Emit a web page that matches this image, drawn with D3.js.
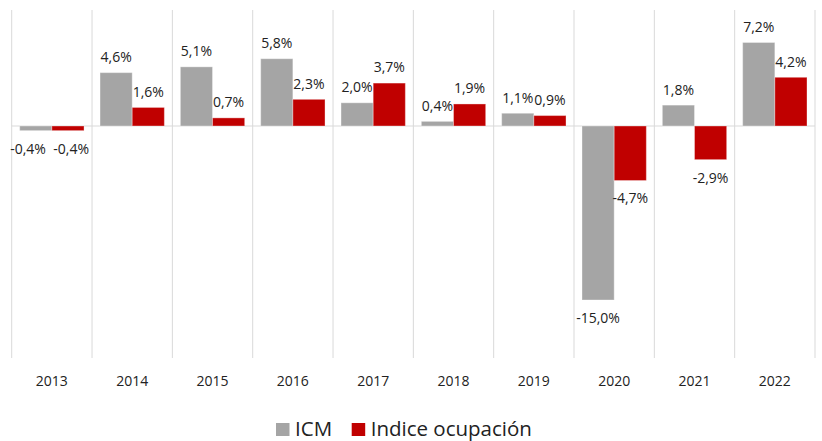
<!DOCTYPE html>
<html>
<head>
<meta charset="utf-8">
<script src="https://cdn.jsdelivr.net/npm/d3@7"></script>
<style>
  body { margin: 0; background: #fff; }
  svg { display: block; font-family: "Open Sans", sans-serif; }
</style>
</head>
<body>
<div id="chart"></div>
<script>
const years = ["2013", "2014", "2015", "2016", "2017", "2018", "2019", "2020", "2021", "2022"];
const icm = [-0.4, 4.6, 5.1, 5.8, 2.0, 0.4, 1.1, -15.0, 1.8, 7.2];
const ocupacion = [-0.4, 1.6, 0.7, 2.3, 3.7, 1.9, 0.9, -4.7, -2.9, 4.2];
const seriesNames = ["ICM", "Indice ocupación"];
const colors = ["#a5a5a5", "#c00000"];

const width = 822, height = 441;

const svg = d3.select("#chart").append("svg")
    .attr("width", width)
    .attr("height", height);

const x = d3.scaleBand()
    .domain(years)
    .range([11.7, 815])
    .padding(0);

const x1 = d3.scaleBand()
    .domain(seriesNames)
    .range([8, x.bandwidth() - 8]);

const y = d3.scaleLinear()
    .domain([-20, 10])
    .range([358, 10]);

// vertical separators between categories
const edges = years.map(d => x(d)).concat([x.range()[1]]);
svg.append("g")
    .selectAll("line")
    .data(edges)
    .join("line")
    .attr("x1", d => d).attr("x2", d => d)
    .attr("y1", y.range()[1]).attr("y2", y.range()[0])
    .attr("stroke", "#d9d9d9")
    .attr("stroke-width", 1);

// zero line
svg.append("line")
    .attr("x1", x.range()[0]).attr("x2", x.range()[1])
    .attr("y1", y(0)).attr("y2", y(0))
    .attr("stroke", "#d9d9d9")
    .attr("stroke-width", 1);

const rows = years.map((yr, i) => ({
    year: yr,
    values: [icm[i], ocupacion[i]]
}));

const groups = svg.append("g")
    .selectAll("g")
    .data(rows)
    .join("g")
    .attr("transform", d => `translate(${x(d.year)},0)`);

const cells = groups.selectAll("g")
    .data(d => d.values.map((v, k) => ({ name: seriesNames[k], value: v, k })))
    .join("g");

cells.append("rect")
    .attr("x", d => x1(d.name))
    .attr("y", d => y(Math.max(0, d.value)))
    .attr("width", x1.bandwidth())
    .attr("height", d => Math.abs(y(d.value) - y(0)))
    .attr("fill", d => colors[d.k])
    .attr("stroke", "#fff")
    .attr("stroke-opacity", 0.35)
    .attr("stroke-width", 1);

const fmt = v => v.toFixed(1).replace(".", ",") + "%";

cells.append("text")
    .attr("class", "val")
    .attr("x", d => x1(d.name) + x1.bandwidth() / 2)
    .attr("y", d => d.value >= 0 ? y(d.value) - 15.5 : y(d.value) + 18)
    .attr("dy", "0.35em")
    .attr("text-anchor", "middle")
    .attr("font-size", 14)
    .attr("fill", "#222")
    .text(d => fmt(d.value));

// if the two labels of a year collide, push them apart
groups.each(function () {
    const labels = d3.select(this).selectAll("text.val").nodes();
    const a = labels[0].getBBox(), b = labels[1].getBBox();
    const overlap = a.x + a.width > b.x && Math.abs(a.y - b.y) < a.height;
    if (!overlap) return;
    d3.select(labels[0])
        .attr("text-anchor", "end")
        .attr("x", x1(seriesNames[0]) + x1.bandwidth() - 6);
    d3.select(labels[1])
        .attr("text-anchor", "start")
        .attr("x", x1(seriesNames[1]) + 1.5);
});

// category labels
svg.append("g")
    .selectAll("text")
    .data(years)
    .join("text")
    .attr("x", d => x(d) + x.bandwidth() / 2)
    .attr("y", 381)
    .attr("dy", "0.35em")
    .attr("text-anchor", "middle")
    .attr("font-size", 14)
    .attr("fill", "#222")
    .text(d => d);

// legend
const legend = svg.append("g").attr("transform", "translate(276,0)");
const legendX = [0, 75.7];
seriesNames.forEach((name, i) => {
    legend.append("rect")
        .attr("x", legendX[i])
        .attr("y", 423)
        .attr("width", 13.5)
        .attr("height", 13)
        .attr("fill", colors[i]);
    legend.append("text")
        .attr("x", legendX[i] + 19)
        .attr("y", 436)
        .attr("font-size", 20.5)
        .attr("fill", "#222")
        .text(name);
});
</script>
</body>
</html>
